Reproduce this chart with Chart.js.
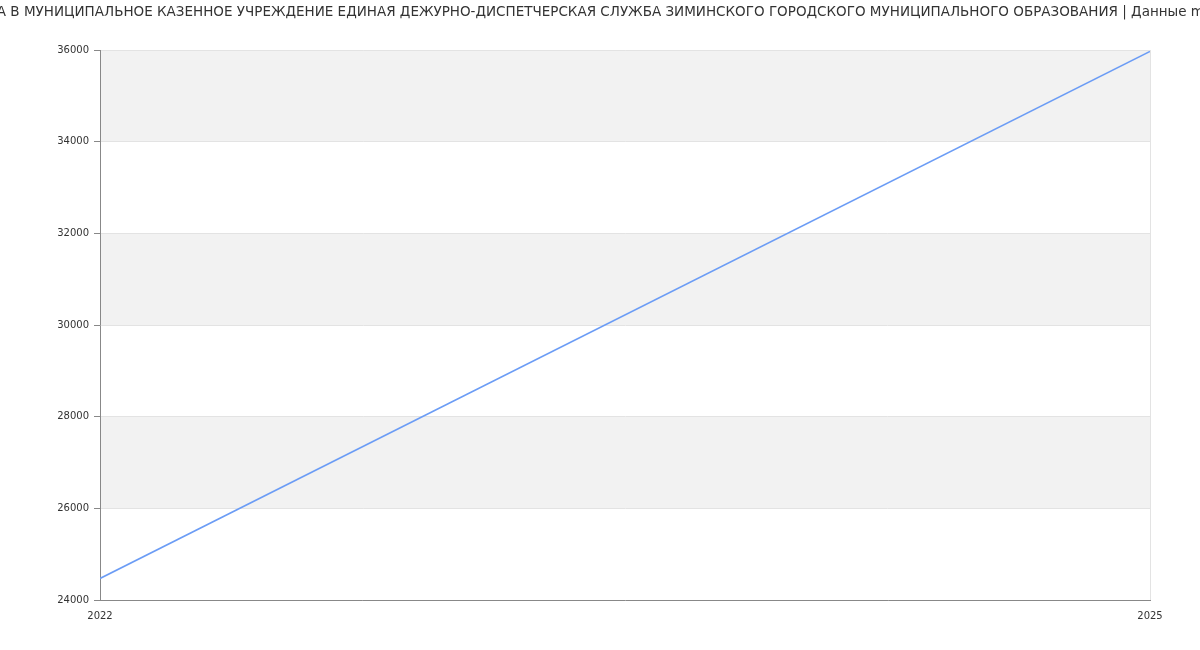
<!DOCTYPE html>
<html lang="ru">
<head>
  <meta charset="UTF-8">
  <title>Зарплата</title>
  <script src="https://cdn.jsdelivr.net/npm/chart.js"></script>
  <style>
    body { margin: 0; padding: 0; background: #ffffff; }
    #wrap { width: 1200px; height: 650px; position: relative; }
  </style>
</head>
<body>
  <div id="wrap"><canvas id="chart"></canvas></div>
  <script>
    // Data
    const years = [2022, 2025];
    const salary = [24470, 35970];
    const yTicks = [24000, 26000, 28000, 30000, 32000, 34000, 36000];
    const titleText = 'ЗАРПЛАТА В МУНИЦИПАЛЬНОЕ КАЗЕННОЕ УЧРЕЖДЕНИЕ ЕДИНАЯ ДЕЖУРНО-ДИСПЕТЧЕРСКАЯ СЛУЖБА ЗИМИНСКОГО ГОРОДСКОГО МУНИЦИПАЛЬНОГО ОБРАЗОВАНИЯ | Данные mnogo.info';

    // Alternating grey bands between y ticks
    const bands = {
      id: 'bands',
      beforeDraw(chart) {
        const { ctx, chartArea, scales } = chart;
        ctx.save();
        ctx.fillStyle = '#f2f2f2';
        for (let i = yTicks.length - 1; i > 0; i -= 2) {
          const top = scales.y.getPixelForValue(yTicks[i]);
          const bottom = scales.y.getPixelForValue(yTicks[i - 1]);
          ctx.fillRect(chartArea.left, top, chartArea.right - chartArea.left, bottom - top);
        }
        ctx.restore();
      }
    };

    // Title drawn without maxWidth so it runs past the canvas edges like the original
    const wideTitle = {
      id: 'wideTitle',
      afterDraw(chart) {
        const ctx = chart.ctx;
        ctx.save();
        ctx.font = '13.5px "DejaVu Sans"';
        ctx.fillStyle = '#333';
        ctx.textAlign = 'center';
        ctx.textBaseline = 'middle';
        ctx.fillText(titleText, chart.width / 2, 12);
        ctx.restore();
      }
    };

    new Chart(document.getElementById('chart'), {
      type: 'line',
      data: {
        datasets: [{
          data: years.map((y, i) => ({ x: y, y: salary[i] })),
          borderColor: '#6b9cf5',
          borderWidth: 1.6,
          pointRadius: 0,
          fill: false,
          tension: 0
        }]
      },
      options: {
        responsive: true,
        maintainAspectRatio: false,
        animation: false,
        layout: { padding: { left: 0, right: 50, top: 50, bottom: 0 } },
        plugins: {
          legend: { display: false },
          tooltip: { enabled: false },
          title: { display: false }
        },
        scales: {
          x: {
            type: 'linear',
            min: years[0],
            max: years[years.length - 1],
            afterBuildTicks: s => { s.ticks = years.map(v => ({ value: v })); },
            afterFit: s => { s.height = 50; },
            border: { display: true, color: '#888', width: 1 },
            grid: { color: '#e3e3e3', drawTicks: false },
            ticks: {
              color: '#333',
              font: { family: 'DejaVu Sans', size: 10 },
              padding: 10,
              maxRotation: 0,
              callback: v => String(v)
            }
          },
          y: {
            min: yTicks[0],
            max: yTicks[yTicks.length - 1],
            afterBuildTicks: s => { s.ticks = yTicks.map(v => ({ value: v })); },
            afterFit: s => { s.width = 100; },
            border: { display: true, color: '#888', width: 1 },
            grid: { color: '#e3e3e3', tickColor: '#888', tickLength: 6 },
            ticks: {
              color: '#333',
              font: { family: 'DejaVu Sans', size: 10 },
              padding: 5,
              callback: v => String(v)
            }
          }
        }
      },
      plugins: [bands, wideTitle]
    });
  </script>
</body>
</html>
